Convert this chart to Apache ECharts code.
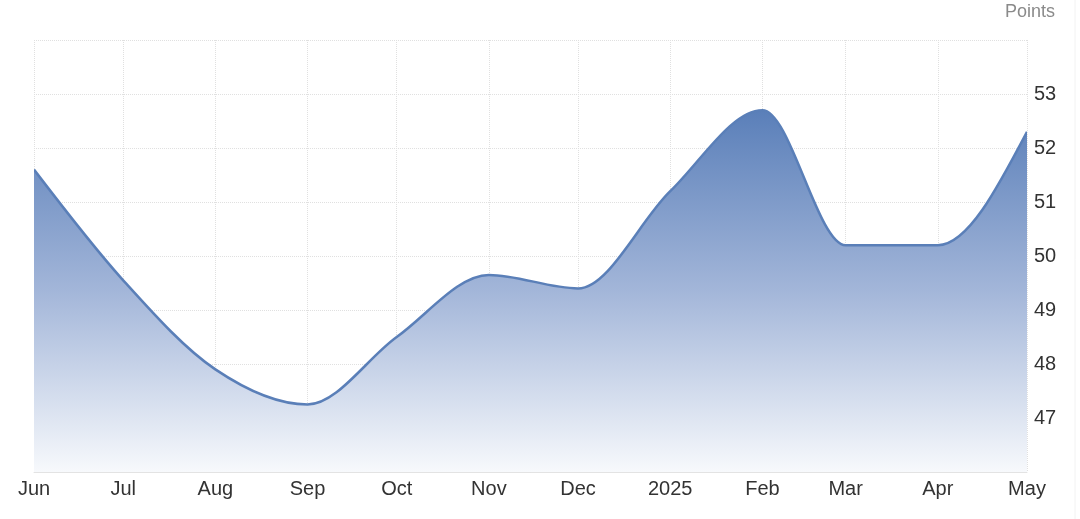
<!DOCTYPE html>
<html>
<head>
<meta charset="utf-8">
<style>
  html, body { margin: 0; padding: 0; background: #fff; }
  #chart { width: 1080px; height: 519px; }
</style>
<script src="https://cdn.jsdelivr.net/npm/echarts@6/dist/echarts.min.js"></script>
</head>
<body>
<div id="chart"></div>
<script>
  const months = ["2024-06-01", "2024-07-01", "2024-08-01", "2024-09-01", "2024-10-01", "2024-11-01",
    "2024-12-01", "2025-01-01", "2025-02-01", "2025-03-01", "2025-04-01", "2025-05-01"];
  const values = [51.6, 49.55, 47.9, 47.25, 48.5, 49.65, 49.4, 51.2, 52.7, 50.2, 50.2, 52.3];
  const monthNames = ["Jan", "Feb", "Mar", "Apr", "May", "Jun", "Jul", "Aug", "Sep", "Oct", "Nov", "Dec"];
  const yLabels = [47, 48, 49, 50, 51, 52, 53];
  const yMin = 46;
  const yMax = 54;

  const DAY = 86400000;
  const chart = echarts.init(document.getElementById("chart"));

  function toTime(m) {
    return +new Date(m + "T00:00:00");
  }

  // monotone cubic (like d3 curveMonotoneX) through pixel points
  function monotonePath(pts) {
    const n = pts.length;
    const t = new Array(n);
    const s = [];
    const h = [];
    for (let i = 0; i < n - 1; i++) {
      h[i] = pts[i + 1][0] - pts[i][0];
      s[i] = (pts[i + 1][1] - pts[i][1]) / h[i];
    }
    for (let i = 1; i < n - 1; i++) {
      const p = (s[i - 1] * h[i] + s[i] * h[i - 1]) / (h[i - 1] + h[i]);
      t[i] = (Math.sign(s[i - 1]) + Math.sign(s[i])) *
        Math.min(Math.abs(s[i - 1]), Math.abs(s[i]), 0.5 * Math.abs(p)) || 0;
    }
    t[0] = (3 * s[0] - t[1]) / 2;
    t[n - 1] = (3 * s[n - 2] - t[n - 2]) / 2;
    let d = "M" + pts[0][0] + "," + pts[0][1];
    for (let i = 0; i < n - 1; i++) {
      const dx = h[i] / 3;
      d += "C" + (pts[i][0] + dx) + "," + (pts[i][1] + dx * t[i]) + "," +
        (pts[i + 1][0] - dx) + "," + (pts[i + 1][1] - dx * t[i + 1]) + "," +
        pts[i + 1][0] + "," + pts[i + 1][1];
    }
    return d;
  }

  function renderCurve(params, api) {
    if (params.dataIndex !== 0) return null;
    const pts = months.map((m, i) => api.coord([toTime(m), values[i]]));
    const line = monotonePath(pts);
    const last = api.coord([toTime(months[months.length - 1]), yMin]);
    const first = api.coord([toTime(months[0]), yMin]);
    const area = line + "L" + last[0] + "," + last[1] + "L" + first[0] + "," + first[1] + "Z";
    return {
      type: "group",
      children: [
        {
          type: "path",
          shape: { pathData: area },
          style: {
            fill: new echarts.graphic.LinearGradient(0, 0, 0, 1, [
              { offset: 0, color: "#5a7fb9" },
              { offset: 0.5, color: "#a3b6d9" },
              { offset: 1, color: "#f7f9fc" },
            ]),
            stroke: null,
          },
        },
        {
          type: "path",
          shape: { pathData: line },
          style: { fill: null, stroke: "#5a7fb8", lineWidth: 2.5 },
        },
      ],
    };
  }

  chart.setOption({
    animation: false,
    backgroundColor: "#fff",
    textStyle: { fontFamily: "Liberation Sans, Arial, sans-serif" },
    title: {
      text: "Points",
      right: 20,
      top: -2,
      textStyle: { color: "#8a8a8a", fontSize: 18, fontWeight: "normal" },
    },
    graphic: [
      {
        type: "line",
        shape: { x1: 1075, y1: 0, x2: 1075, y2: 519 },
        style: { stroke: "#f2f2f2", lineWidth: 1 },
      },
    ],
    grid: { left: 34, right: 53, top: 40, bottom: 47 },
    xAxis: {
      type: "time",
      min: toTime(months[0]),
      max: toTime(months[months.length - 1]),
      splitNumber: 11,
      minInterval: 28 * DAY,
      maxInterval: 31 * DAY,
      axisLine: { lineStyle: { color: "#e3e3e3", width: 1 } },
      axisTick: { show: false },
      axisLabel: {
        color: "#333",
        fontSize: 20,
        fontWeight: "normal",
        margin: 7,
        hideOverlap: false,
        showMinLabel: true,
        showMaxLabel: true,
        formatter: function (value) {
          const d = new Date(value);
          return d.getMonth() === 0 ? String(d.getFullYear()) : monthNames[d.getMonth()];
        },
      },
      splitLine: { show: true, lineStyle: { color: "#e0e0e0", type: "dotted" } },
    },
    yAxis: {
      type: "value",
      position: "right",
      min: yMin,
      max: yMax,
      interval: 1,
      axisLine: { show: false },
      axisTick: { show: false },
      axisLabel: {
        color: "#333",
        fontSize: 20,
        margin: 7,
        formatter: function (v) {
          return yLabels.indexOf(v) >= 0 ? String(v) : "";
        },
      },
      splitLine: { lineStyle: { color: "#e0e0e0", type: "dotted" } },
    },
    series: [
      {
        type: "custom",
        renderItem: renderCurve,
        data: months.map((m, i) => [toTime(m), values[i]]),
        encode: { x: 0, y: 1 },
        clip: true,
      },
    ],
  });
</script>
</body>
</html>
